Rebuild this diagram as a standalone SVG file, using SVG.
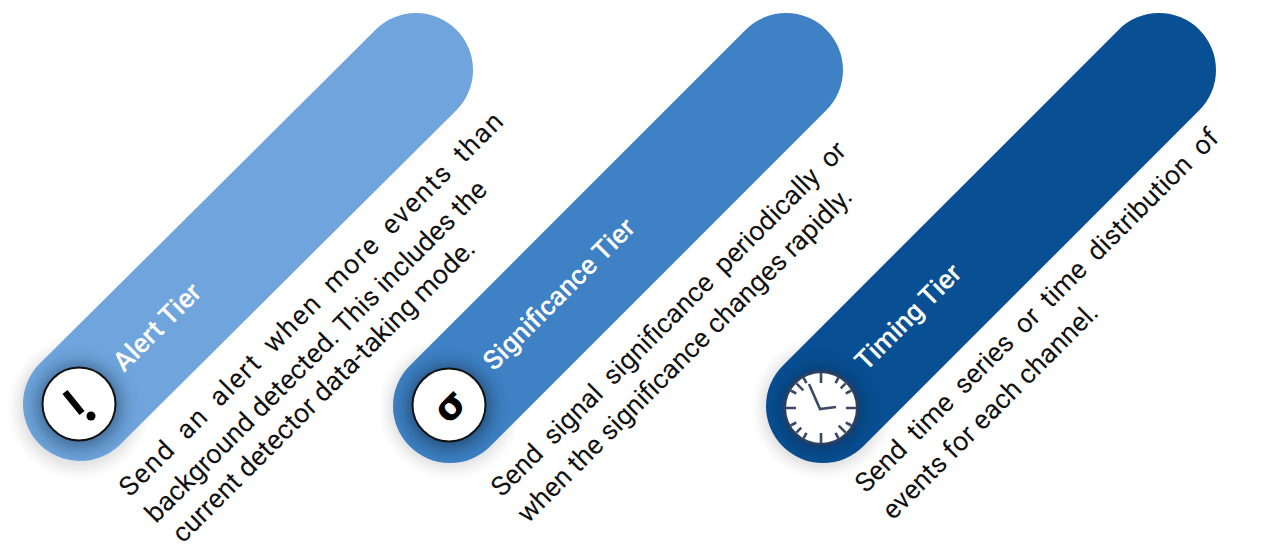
<svg xmlns="http://www.w3.org/2000/svg" width="1263" height="546" viewBox="0 0 1263 546">
<style>
.pill{stroke-width:114;stroke-linecap:round;fill:none}
.body{font-family:Roboto,"Liberation Sans",sans-serif;font-size:27px;fill:#111}
.head{font-family:Roboto,"Liberation Sans",sans-serif;font-size:27px;font-weight:500;fill:#fff}
.disc{fill:#fff;stroke:#111;stroke-width:2}
</style>
<defs>
<filter id="halo" x="-40%" y="-40%" width="180%" height="180%"><feGaussianBlur stdDeviation="9"/></filter>
<filter id="soft" x="-20%" y="-20%" width="140%" height="140%"><feGaussianBlur stdDeviation="6"/></filter>
</defs>
<g id="alert-tier">
<circle cx="79" cy="408" r="64" fill="#000" opacity=".09" filter="url(#soft)"/>
<path class="pill" stroke="#6fa5dc" d="M80 404L416 70"/>
<circle cx="79" cy="406" r="42" fill="#1c3a5c" opacity=".6" filter="url(#halo)"/>
<circle class="disc" cx="79" cy="404" r="36.5"/>
<path d="M65 392L82 413" stroke="#000" stroke-width="6.5" fill="none"/>
<circle cx="91" cy="416" r="4.5" fill="#000"/>
<text class="head" transform="translate(124 373) rotate(-45)">Alert Tier</text>
<text class="body" transform="translate(130 498) rotate(-45)" textLength="530" lengthAdjust="spacing" word-spacing="6">Send an alert when more events than</text>
<text class="body" transform="translate(156 524) rotate(-45)">background detected. This includes the</text>
<text class="body" transform="translate(183 544) rotate(-45)">current detector data-taking mode.</text>
</g>
<g id="significance-tier">
<circle cx="450" cy="408" r="64" fill="#000" opacity=".09" filter="url(#soft)"/>
<path class="pill" stroke="#3e81c4" d="M450 406L786 70"/>
<circle cx="449" cy="407" r="42" fill="#12304f" opacity=".65" filter="url(#halo)"/>
<circle class="disc" cx="449" cy="405" r="36.5"/>
<text transform="translate(449 405) rotate(-45)" text-anchor="middle" y="14" font-family="'DejaVu Sans',sans-serif" font-size="38" font-weight="700" fill="#000">σ</text>
<text class="head" transform="translate(494 372) rotate(-45)">Significance Tier</text>
<text class="body" transform="translate(502 498) rotate(-45)" word-spacing="6">Send signal significance periodically or</text>
<text class="body" transform="translate(528 524) rotate(-45)">when the significance changes rapidly.</text>
</g>
<g id="timing-tier">
<circle cx="823" cy="408" r="64" fill="#000" opacity=".09" filter="url(#soft)"/>
<path class="pill" stroke="#084f93" d="M823 406L1159 70"/>
<circle cx="821" cy="409" r="42" fill="#0b2847" opacity=".5" filter="url(#halo)"/>
<circle cx="821" cy="408" r="38" fill="#2c3f5f"/>
<circle cx="821" cy="408" r="35" fill="#fff"/>
<g stroke="#3a4a66" stroke-width="2.6" fill="none">
<path d="M821 373v10M821 443v-10M786 408h10M856 408h-10M845.700 383.300l-5 5M796.300 432.700l5-5M845.700 432.700l-7-7M796.300 383.300l7 7M838.500 377.700l-3 5.500M803.500 438.300l3-5.500M851.300 390.500l-5.500 3M790.700 425.500l5.500-3M851.300 425.500l-5.500-3M790.700 390.500l5.500 3M838.500 438.300l-3-5.500M803.500 377.700l3 5.500"/>
<path d="M809 384L820 409L836 407"/>
</g>
<text class="head" transform="translate(866 372) rotate(-45)">Timing Tier</text>
<text class="body" transform="translate(866 494) rotate(-45)" word-spacing="6">Send time series or time distribution of</text>
<text class="body" transform="translate(893 521) rotate(-45)">events for each channel.</text>
</g>
</svg>
